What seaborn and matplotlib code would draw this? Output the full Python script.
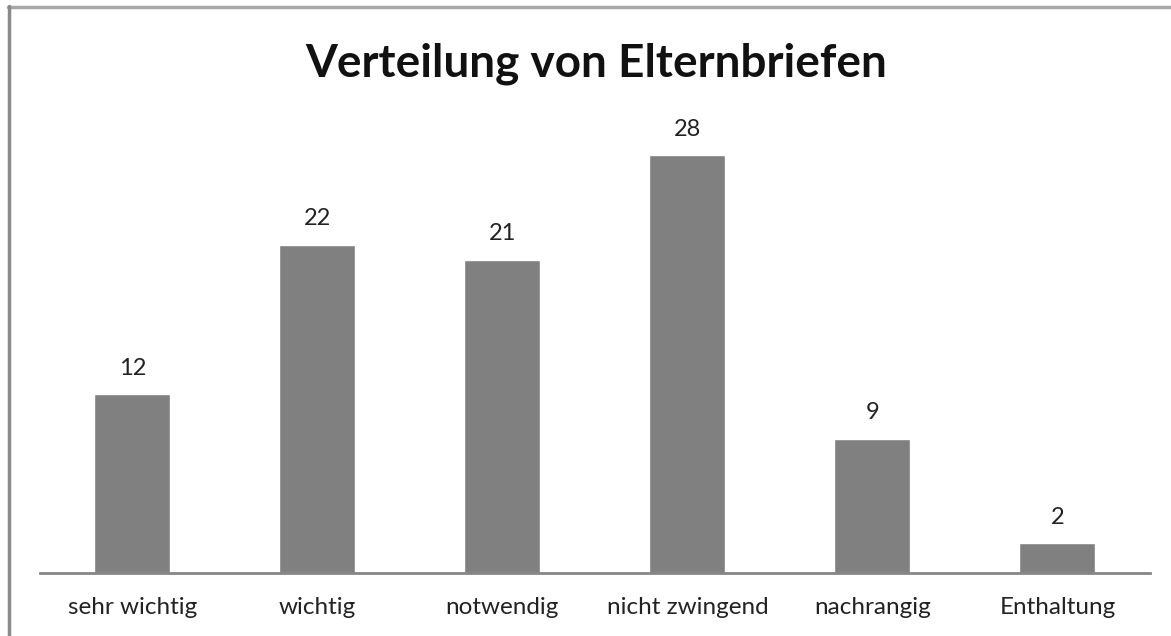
import matplotlib
matplotlib.use('Agg')
import matplotlib.pyplot as plt
import pandas as pd
import seaborn as sns

# Data
categories = ['sehr wichtig', 'wichtig', 'notwendig', 'nicht zwingend', 'nachrangig', 'Enthaltung']
counts = [12, 22, 21, 28, 9, 2]
title = 'Verteilung von Elternbriefen'

df = pd.DataFrame({'Kategorie': categories, 'Anzahl': counts})

sns.set_style('white')
plt.rcParams['font.family'] = ['Lato', 'DejaVu Sans']

fig = plt.figure(figsize=(11.71, 6.36), dpi=100)
ax = fig.add_axes([0.034, 0.099, 0.948, 0.704])

sns.barplot(data=df, x='Kategorie', y='Anzahl', color='#808080', width=0.41,
            saturation=1, ax=ax)

for c in ax.containers:
    ax.bar_label(c, padding=11, fontsize=17, color='#222222')

ax.set_ylim(0, 30)
ax.set_xlim(-0.5, 5.5)
ax.set_xlabel('')
ax.set_ylabel('')
ax.set_yticks([])
ax.tick_params(axis='x', length=0, labelsize=17.5, pad=17, colors='#222222')
for s in ['top', 'right', 'left']:
    ax.spines[s].set_visible(False)
ax.spines['bottom'].set_color('#868686')
ax.spines['bottom'].set_linewidth(2)

fig.text(0.509, 0.900, title, ha='center', va='center', fontsize=33,
         fontweight='bold', color='#111111')

# outer frame (only top and left edges visible in crop)
fig.add_artist(plt.Line2D([0.007, 1.0], [0.989, 0.989], transform=fig.transFigure,
                          color='#a8a8a8', lw=2.5))
fig.add_artist(plt.Line2D([0.008, 0.008], [0.0, 0.99], transform=fig.transFigure,
                          color='#8a8a8a', lw=2.5))

fig.savefig('out.png', dpi=100)
